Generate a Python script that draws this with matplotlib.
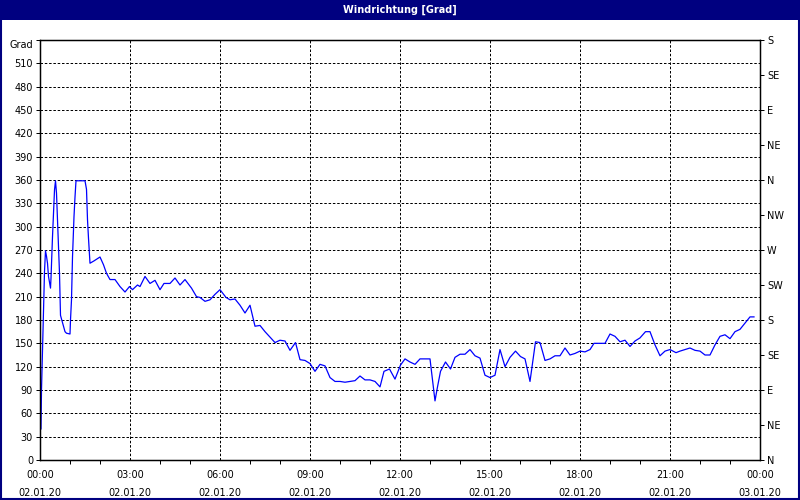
import matplotlib
matplotlib.use('Agg')
import matplotlib.pyplot as plt
from matplotlib.patches import Rectangle

# minutes since 02.01.20 00:00 and wind direction in degrees
minutes = [2, 3, 5, 7, 9, 11, 13, 15, 17, 21, 22, 25, 27, 29, 31, 33, 37, 39, 40, 41,
           50, 53, 60, 61, 63, 65, 68, 70, 72, 90, 93, 95, 97, 100, 108, 120, 127, 133, 140, 150,
           160, 170, 179, 185, 195, 200, 210, 220, 230, 240, 248, 260, 270, 280, 290, 303, 313, 320,
           330, 340, 350, 360, 372, 380, 390, 400, 410, 420, 430, 440, 450, 460, 470, 480, 490, 500,
           511, 520, 530, 540, 550, 560, 570, 580, 590, 600, 610, 620, 630, 640, 650, 660, 670, 680,
           688, 699, 710, 721, 730, 740, 750, 760, 770, 780, 785, 790, 795, 801, 811, 821, 830, 840,
           850, 860, 870, 880, 890, 900, 910, 920, 930, 940, 951, 961, 970, 980, 991, 1000, 1010,
           1020, 1030, 1040, 1050, 1060, 1070, 1080, 1090, 1100, 1108, 1120, 1130, 1140, 1150, 1160,
           1170, 1180, 1190, 1200, 1211, 1220, 1230, 1240, 1250, 1260, 1272, 1280, 1290, 1300, 1310,
           1320, 1330, 1340, 1350, 1360, 1370, 1380, 1390, 1400, 1410, 1420, 1428]
grad = [40, 90, 141, 193, 242, 269, 262, 253, 236, 221, 234, 287, 317, 347, 359, 343, 274, 240, 210, 186,
        165, 163, 162, 180, 206, 261, 313, 338, 359, 359, 348, 309, 285, 253, 256, 261, 251, 240, 232, 232,
        223, 216, 223, 219, 225, 223, 236, 227, 231, 219, 227, 227, 234, 225, 232, 221, 210, 209,
        204, 206, 213, 219, 209, 206, 207, 199, 189, 199, 172, 173, 165, 158, 151, 154, 153, 141,
        151, 129, 128, 124, 114, 123, 121, 106, 101, 101, 100, 101, 102, 108, 103, 103, 101, 94,
        114, 117, 104, 122, 130, 126, 123, 130, 130, 130, 103, 76, 94, 114, 126, 117, 132, 136,
        136, 142, 134, 131, 109, 106, 109, 142, 120, 132, 140, 133, 130, 101, 152, 151, 128,
        130, 134, 134, 144, 135, 137, 140, 139, 142, 150, 150, 150, 162, 159, 152,
        154, 146, 153, 157, 165, 165, 148, 134, 140, 142, 138, 140, 142, 144, 141,
        140, 135, 135, 148, 159, 161, 156, 165, 168, 176, 184, 184]

time_labels = ['00:00\n02.01.20', '03:00\n02.01.20', '06:00\n02.01.20', '09:00\n02.01.20',
               '12:00\n02.01.20', '15:00\n02.01.20', '18:00\n02.01.20', '21:00\n02.01.20',
               '00:00\n03.01.20']
left_labels = [str(v) for v in range(0, 540, 30)] + ['Grad']
compass = ['N', 'NE', 'E', 'SE', 'S', 'SW', 'W', 'NW', 'N', 'NE', 'E', 'SE', 'S']

navy = '#000080'
plt.rcParams['font.family'] = 'DejaVu Sans'
plt.rcParams['font.size'] = 7

fig = plt.figure(figsize=(8, 5), dpi=100)
fig.patches.append(Rectangle((0, 0.96), 1, 0.04, transform=fig.transFigure,
                             facecolor=navy, edgecolor='none', zorder=0))
fig.patches.append(Rectangle((0.001, 0.002), 0.998, 0.997, transform=fig.transFigure,
                             facecolor='none', edgecolor=navy, linewidth=1.5, zorder=5))
fig.text(0.5, 0.98, 'Windrichtung [Grad]', color='white', fontweight='bold',
         ha='center', va='center', fontsize=7)

ax = fig.add_axes([0.05, 0.08, 0.90, 0.84])
ax.plot(minutes, grad, color='#0000ff', linewidth=0.9)

ax.set_xlim(0, 1440)
ax.set_ylim(0, 540)
ax.set_xticks(range(0, 1441, 180))
ax.set_xticklabels(time_labels, linespacing=2.0)
ax.set_xticks(range(0, 1441, 60), minor=True)
ax.set_yticks(range(0, 541, 30))
ax.set_yticklabels(left_labels)
ax.get_yticklabels()[-1].set_va('top')

ax.grid(True, color='black', linestyle=(0, (2.5, 1.8)), linewidth=0.72)
ax.tick_params(axis='both', which='both', direction='out', length=3, width=0.72, pad=2,
               colors='black')
ax.tick_params(axis='x', which='major', length=0, pad=7)
for s in ax.spines.values():
    s.set_linewidth(1)

ax2 = ax.twinx()
ax2.set_ylim(0, 540)
ax2.set_yticks(range(0, 541, 45))
ax2.set_yticklabels(compass)
ax2.tick_params(axis='y', direction='out', length=3, width=0.72, pad=2)

fig.savefig('out.png', dpi=100)
